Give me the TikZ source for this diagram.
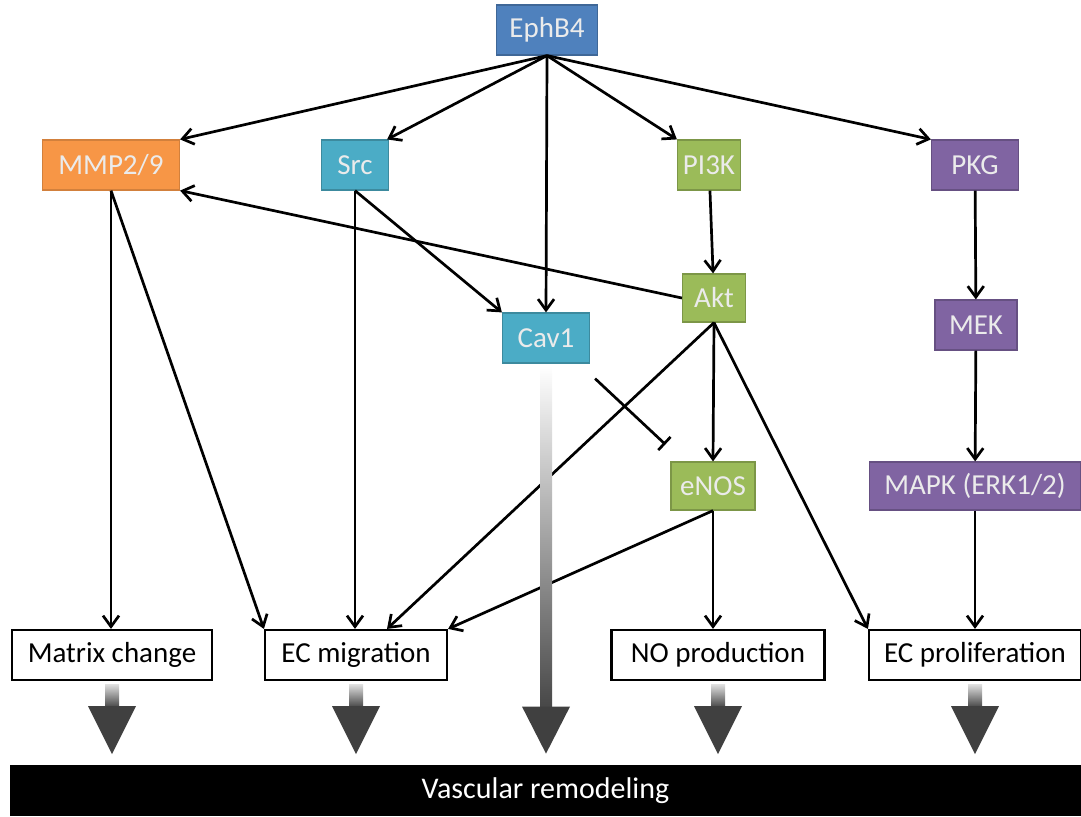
\documentclass[tikz,border=0pt]{standalone}
\usepackage{fontspec}
\setmainfont{Carlito}
\usetikzlibrary{positioning, arrows.meta, calc}
\usepackage{xcolor}

\definecolor{ephblue}{HTML}{4F81BD}
\definecolor{mmporange}{HTML}{F79646}
\definecolor{srcteal}{HTML}{4BACC6}
\definecolor{akgreen}{HTML}{9BBB59}
\definecolor{pkpurple}{HTML}{8064A2}
\definecolor{arrowgray}{HTML}{404040}

\begin{document}
\begin{tikzpicture}[
        x=0.5pt, y=-0.5pt,
        >={Straight Barb[length=5.5pt,width=8pt]},
        link/.style={->, line width=1.35pt, black},
        protein/.style={
            rectangle,
            minimum height=25pt,
            inner sep=0pt,
            text=white!92!black,
            font=\fontsize{14.5}{17}\selectfont,
            line width=0.6pt
        },
        outcome/.style={
            rectangle,
            draw=black,
            fill=white,
            minimum height=25pt,
            inner sep=0pt,
            line width=1.1pt,
            font=\fontsize{14.5}{17}\selectfont
        }
    ]
        \useasboundingbox (0,0) rectangle (1081,816);

        % Receptor
        \node[protein, fill=ephblue, draw=ephblue!80!black, minimum width=50.5pt] (eph) at (547,30) {EphB4};

        % Proteins - second row
        \node[protein, fill=mmporange, draw=mmporange!85!black, minimum width=68.5pt] (mmp) at (111,165) {MMP2/9};
        \node[protein, fill=srcteal, draw=srcteal!80!black, minimum width=33.5pt] (src) at (355,165) {Src};
        \node[protein, fill=akgreen, draw=akgreen!80!black, minimum width=31.5pt] (pi3k) at (709,165) {PI3K};
        \node[protein, fill=pkpurple, draw=pkpurple!80!black, minimum width=43.5pt] (pkg) at (975,165) {PKG};

        % Proteins - middle
        \node[protein, fill=akgreen, draw=akgreen!80!black, minimum width=31.5pt, minimum height=24pt] (akt) at (714,298) {Akt};
        \node[protein, fill=srcteal, draw=srcteal!80!black, minimum width=43.5pt] (cav1) at (546,338) {Cav1};
        \node[protein, fill=pkpurple, draw=pkpurple!80!black, minimum width=41pt] (mek) at (976,325) {MEK};
        \node[protein, fill=akgreen, draw=akgreen!80!black, minimum width=42pt, minimum height=24pt] (enos) at (713,486) {eNOS};
        \node[protein, fill=pkpurple, draw=pkpurple!80!black, minimum width=105.5pt, minimum height=24pt] (mapk) at (975,486) {MAPK (ERK1/2)};

        % Outcomes
        \node[outcome, minimum width=100pt] (mchange) at (112,655) {Matrix change};
        \node[outcome, minimum width=91pt] (ecmig) at (356,655) {EC migration};
        \node[outcome, minimum width=106.5pt] (noprod) at (718,655) {NO production};
        \node[outcome, minimum width=106pt] (ecprol) at (975,655) {EC proliferation};

        % Final bar
        \node[rectangle, fill=black, text=white, inner sep=0pt, minimum width=535.5pt, minimum height=25.5pt,
              font=\fontsize{15}{18}\selectfont] (vasc) at (545.5,790.5) {Vascular remodeling};

        % EphB4 targets
        \draw[link] (eph.south) -- (mmp.north east);
        \draw[link] (eph.south) -- ($(src.north east)+(-2,0)$);
        \draw[link] (eph.south) -- (cav1.north);
        \draw[link] (eph.south) -- (pi3k.north west);
        \draw[link] (eph.south) -- (pkg.north west);

        % Cascades
        \draw[link] (pi3k) -- (akt);
        \draw[link] (pkg) -- (mek);
        \draw[link] (mek) -- (mapk);
        \draw[link] (mapk) -- (mapk |- ecprol.north);
        \draw[link] (akt.west) -- (mmp.south east);
        \draw[link] (src.south) -- (cav1.north west);
        \draw[link] (src.south) -- (src.south |- ecmig.north);
        \draw[link] (mmp.south) -- (mmp.south |- mchange.north);
        \draw[link] (mmp.south) -- (ecmig.north west);
        \draw[link] (akt.south) -- (enos.north);
        \draw[link] (akt.south) -- ($(ecmig.north)+(31,0)$);
        \draw[link] (akt.south) -- (ecprol.north west);
        \draw[link] (enos.south) -- (enos.south |- noprod.north);
        \draw[link] (enos.south) -- (ecmig.north east);

        % Inhibition
        \draw[-{Bar[width=9pt]}, line width=1.35pt] ($(cav1.south east)+(5,15)$) -- ($(enos.north west)+(-5,-17)$);

        % Big arrows to remodeling
        \shade[top color=white, bottom color=black!72] ($(cav1.south)+(-6,2)$) rectangle ($(cav1.south)+(6,344)$);
        \fill[arrowgray] ($(cav1.south)+(-24,343)$) -- ($(cav1.south)+(24,343)$) -- ($(cav1.south)+(0,390)$) -- cycle;
        \foreach \n in {mchange,ecmig,noprod,ecprol} {
            \shade[top color=black!12, bottom color=black!72] ($(\n.south)+(-7,3)$) rectangle ($(\n.south)+(7,26)$);
            \fill[arrowgray] ($(\n.south)+(-24,25)$) -- ($(\n.south)+(24,25)$) -- ($(\n.south)+(0,73)$) -- cycle;
        }
    \end{tikzpicture}
\end{document}
